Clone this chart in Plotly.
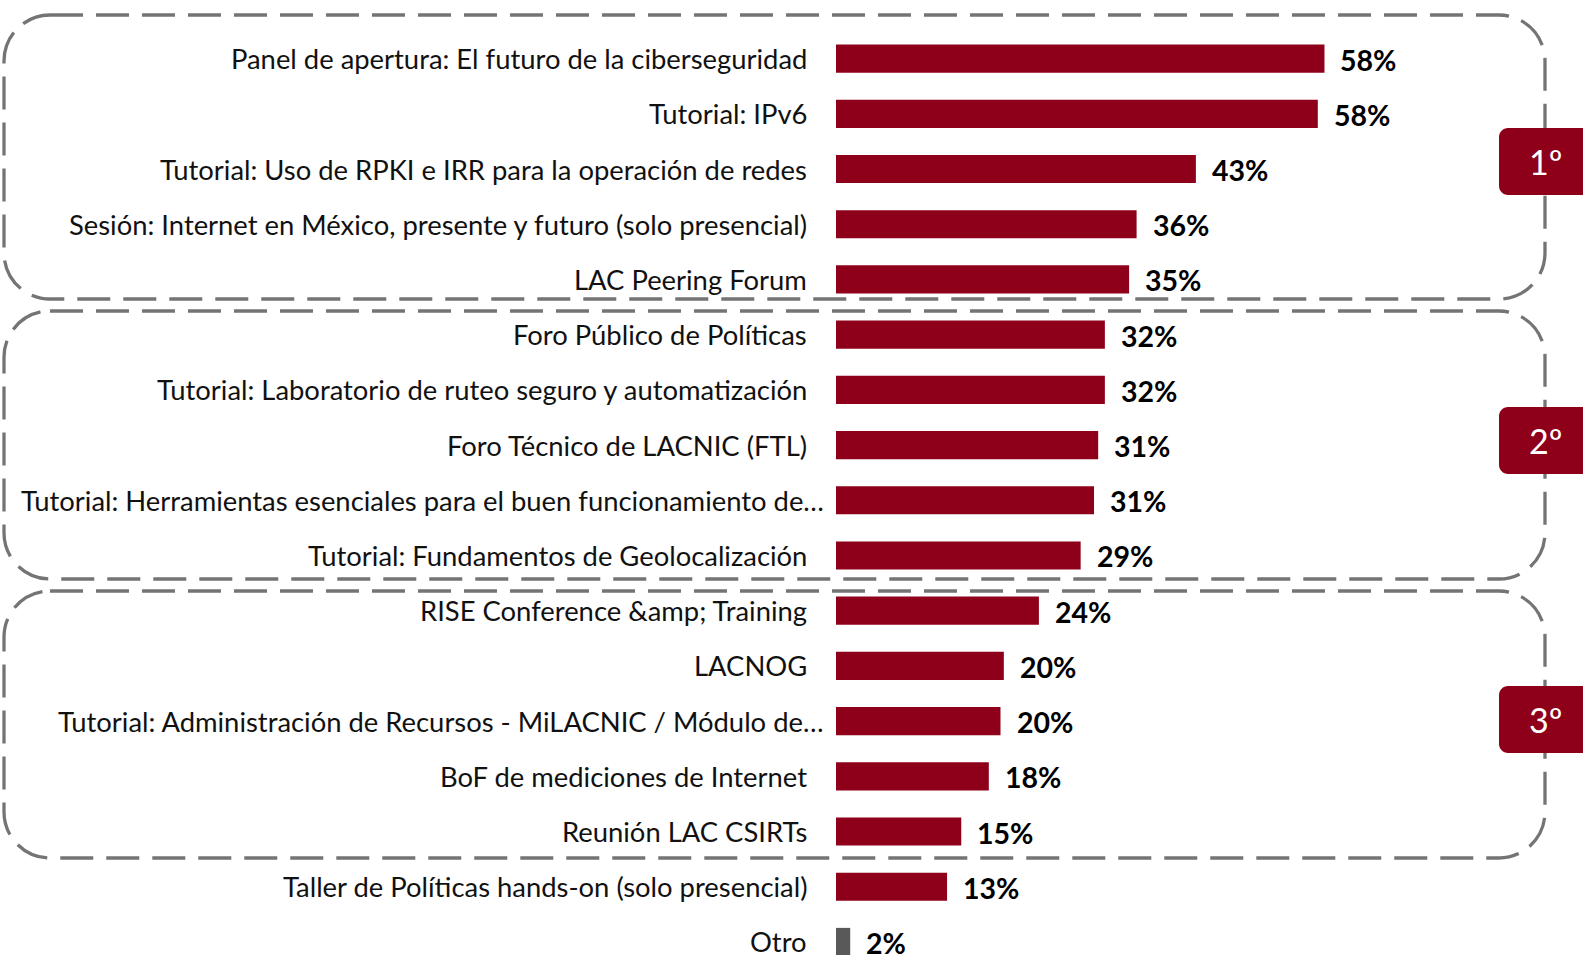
import plotly.graph_objects as go

categories = [
    "Panel de apertura: El futuro de la ciberseguridad",
    "Tutorial: IPv6",
    "Tutorial: Uso de RPKI e IRR para la operación de redes",
    "Sesión: Internet en México, presente y futuro (solo presencial)",
    "LAC Peering Forum",
    "Foro Público de Políticas",
    "Tutorial: Laboratorio de ruteo seguro y automatización",
    "Foro Técnico de LACNIC (FTL)",
    "Tutorial: Herramientas esenciales para el buen funcionamiento de…",
    "Tutorial: Fundamentos de Geolocalización",
    "RISE Conference &amp;amp; Training",
    "LACNOG",
    "Tutorial: Administración de Recursos - MiLACNIC / Módulo de…",
    "BoF de mediciones de Internet",
    "Reunión LAC CSIRTs",
    "Taller de Políticas hands-on (solo presencial)",
    "Otro",
]
values = [58.5, 57.7, 43.1, 36.0, 35.1, 32.2, 32.2, 31.4, 30.9, 29.3,
          24.3, 20.1, 19.7, 18.3, 15.0, 13.3, 1.7]
value_labels = ["58%", "58%", "43%", "36%", "35%", "32%", "32%", "31%", "31%", "29%",
                "24%", "20%", "20%", "18%", "15%", "13%", "2%"]
group_labels = ["1º", "2º", "3º"]

RED = "#8E0019"
GRAY = "#595959"
W, H = 1583, 955
FONT = "Lato"

colors = [RED] * (len(values) - 1) + [GRAY]

# pixel geometry
x0_px = 836          # x position of value 0
k = 8.35             # px per percent
row0_px = 58.6       # center of first row
row_step = 55.21     # px between rows

fig = go.Figure()
fig.add_trace(go.Bar(
    y=categories, x=values, orientation="h",
    marker=dict(color=colors, line=dict(width=0)),
    width=0.51, hoverinfo="skip",
))

annotations = []
for c, v, lab in zip(categories, values, value_labels):
    shift = -10 if c.endswith("…") else -27
    annotations.append(dict(
        x=0, y=c, xref="x", yref="y", text=c, showarrow=False,
        xanchor="right", yanchor="middle", xshift=shift, yshift=0,
        font=dict(family=FONT, size=27.4, color="#111111"),
    ))
    annotations.append(dict(
        x=v, y=c, xref="x", yref="y", text=f"<b>{lab}</b>", showarrow=False,
        xanchor="left", yanchor="middle", xshift=14, yshift=-1,
        font=dict(family=FONT, size=28.5, color="#000000"),
    ))


def px(x, y):
    return x / W, 1 - y / H


def rrect(x0, y0, x1, y1, r):
    kk = 0.5523 * r

    def P(x, y):
        a, b = px(x, y)
        return f"{a:.5f},{b:.5f}"
    return (
        f"M {P(x0 + r, y0)} L {P(x1 - r, y0)} "
        f"C {P(x1 - r + kk, y0)} {P(x1, y0 + r - kk)} {P(x1, y0 + r)} "
        f"L {P(x1, y1 - r)} "
        f"C {P(x1, y1 - r + kk)} {P(x1 - r + kk, y1)} {P(x1 - r, y1)} "
        f"L {P(x0 + r, y1)} "
        f"C {P(x0 + r - kk, y1)} {P(x0, y1 - r + kk)} {P(x0, y1 - r)} "
        f"L {P(x0, y0 + r)} "
        f"C {P(x0, y0 + r - kk)} {P(x0 + r - kk, y0)} {P(x0 + r, y0)} Z"
    )


shapes = []
boxes = [(4, 15, 1545, 299), (4, 311, 1545, 579), (4, 591, 1545, 858)]
for b in boxes:
    shapes.append(dict(
        type="path", path=rrect(*b, 46), xref="paper", yref="paper",
        line=dict(color="#747474", width=3.3, dash="33px,13px"),
        fillcolor="rgba(0,0,0,0)", layer="below",
    ))

badges = [(128, 195), (407, 474), (686, 753)]
for (ya, yb), lab in zip(badges, group_labels):
    shapes.append(dict(
        type="path", path=rrect(1499, ya, 1600, yb, 9), xref="paper", yref="paper",
        line=dict(width=0), fillcolor=RED, layer="above",
    ))
    cx, cy = px(1545, (ya + yb) / 2)
    annotations.append(dict(
        x=cx, y=cy, xref="paper", yref="paper", text=lab, showarrow=False,
        xanchor="center", yanchor="middle",
        font=dict(family=FONT, size=34, color="#FFFFFF"),
    ))

fig.update_layout(
    width=W, height=H,
    margin=dict(l=0, r=0, t=0, b=0, pad=0),
    paper_bgcolor="white", plot_bgcolor="white",
    showlegend=False,
    xaxis=dict(range=[-x0_px / k, (W - x0_px) / k], visible=False, fixedrange=True),
    yaxis=dict(
        type="category",
        range=[(H - row0_px) / row_step, -row0_px / row_step],
        visible=False, fixedrange=True,
    ),
    shapes=shapes,
    annotations=annotations,
)

fig.write_html(
    "out.html",
    config={"displayModeBar": False},
    post_script="document.body.style.margin='0';document.body.style.overflow='hidden';",
)
